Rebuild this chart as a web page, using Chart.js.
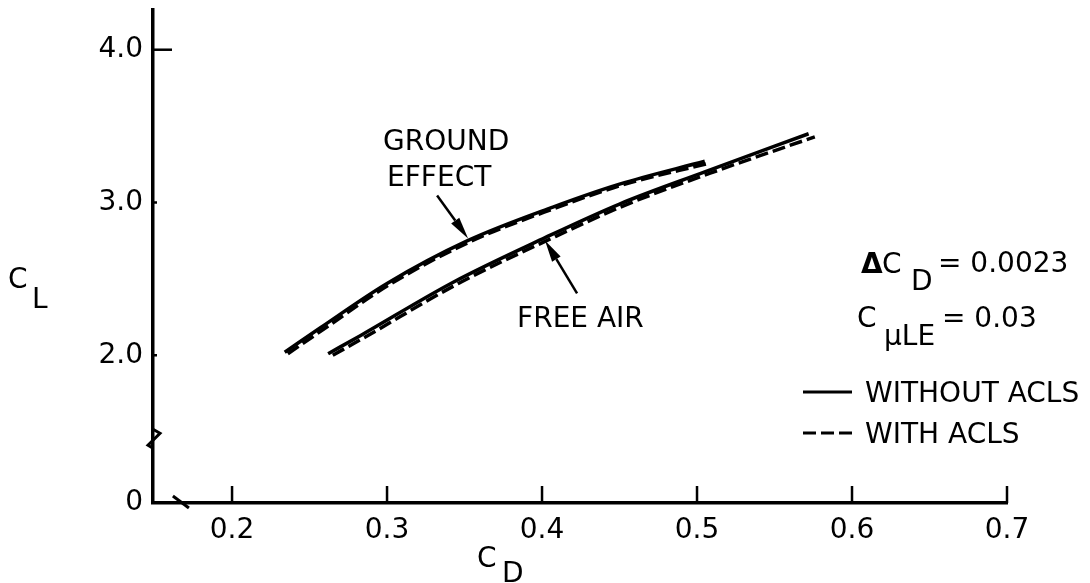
<!DOCTYPE html>
<html><head><meta charset="utf-8">
<script src="https://cdn.jsdelivr.net/npm/chart.js@4.4.1/dist/chart.umd.min.js"></script>
<style>html,body{margin:0;padding:0;background:#fff;}canvas{display:block;}</style>
</head><body>
<canvas id="c" width="1090" height="583"></canvas>
<script>
// ---- data ----
const xTicks = [0.2, 0.3, 0.4, 0.5, 0.6, 0.7];
const yTicks = [2.0, 3.0, 4.0];
const yOriginLabel = '0';

const groundCD_without = [0.234, 0.257, 0.300, 0.352, 0.407, 0.450, 0.505];
const groundCL_without = [2.02, 2.18, 2.47, 2.75, 2.97, 3.12, 3.27];
const groundCD_with    = [0.236, 0.259, 0.302, 0.354, 0.409, 0.452, 0.507];
const groundCL_with    = [2.01, 2.17, 2.465, 2.745, 2.965, 3.115, 3.255];

const freeCD_without = [0.262, 0.283, 0.343, 0.402, 0.450, 0.505, 0.572];
const freeCL_without = [2.01, 2.13, 2.48, 2.77, 2.99, 3.20, 3.45];
const freeCD_with    = [0.265, 0.286, 0.346, 0.405, 0.453, 0.508, 0.576];
const freeCL_with    = [2.00, 2.12, 2.47, 2.76, 2.98, 3.19, 3.43];

const seriesLabels = ['WITHOUT ACLS', 'WITH ACLS'];
const notes = ['GROUND', 'EFFECT', 'FREE AIR'];

// ---- helpers ----
const pts = (xs, ys) => xs.map((v, i) => ({x: v, y: ys[i]}));
const FONT = '"DejaVu Sans", sans-serif';
const F28 = '28px ' + FONT;
const DASH = [13, 5];

const baseDs = {borderColor: '#000', borderWidth: 3.5, pointRadius: 0, fill: false,
  cubicInterpolationMode: 'monotone'};

const annot = {
  id: 'annot',
  afterDraw(chart) {
    const {ctx, scales: {x, y}, chartArea: ca} = chart;
    const X = v => x.getPixelForValue(v), Y = v => y.getPixelForValue(v);
    ctx.save();
    ctx.strokeStyle = '#000'; ctx.fillStyle = '#000';
    // inward tick marks
    ctx.lineWidth = 2.5;
    xTicks.forEach(v => { ctx.beginPath(); ctx.moveTo(X(v), ca.bottom); ctx.lineTo(X(v), ca.bottom - 17); ctx.stroke(); });
    yTicks.forEach(v => { const len = v === 4 ? 19 : 4; ctx.beginPath(); ctx.moveTo(ca.left, Y(v)); ctx.lineTo(ca.left + len, Y(v)); ctx.stroke(); });
    // axis breaks
    ctx.lineWidth = 3;
    const yb = Y(1.45), L = ca.left;
    ctx.beginPath(); ctx.moveTo(L, yb - 10); ctx.lineTo(L + 7, yb - 6); ctx.lineTo(L - 5, yb + 6); ctx.lineTo(L, yb + 9); ctx.stroke();
    const xb = X(0.167), B = ca.bottom;
    ctx.beginPath(); ctx.moveTo(xb - 8, B - 7); ctx.lineTo(xb + 8, B + 5); ctx.stroke();
    // arrows
    const arrow = (x0, y0, x1, y1) => {
      const ax = X(x0), ay = Y(y0), bx = X(x1), by = Y(y1);
      const ang = Math.atan2(by - ay, bx - ax), hl = 22, hw = 5;
      const cx = bx - hl * Math.cos(ang), cy = by - hl * Math.sin(ang);
      ctx.lineWidth = 2.5;
      ctx.beginPath(); ctx.moveTo(ax, ay); ctx.lineTo(cx, cy); ctx.stroke();
      ctx.beginPath(); ctx.moveTo(bx, by);
      ctx.lineTo(cx + hw * Math.sin(ang), cy - hw * Math.cos(ang));
      ctx.lineTo(cx - hw * Math.sin(ang), cy + hw * Math.cos(ang));
      ctx.closePath(); ctx.fill();
    };
    arrow(0.3323, 3.046, 0.3523, 2.765);
    arrow(0.4226, 2.405, 0.4019, 2.752);
    // in-plot labels
    ctx.font = F28; ctx.textAlign = 'left'; ctx.textBaseline = 'alphabetic';
    ctx.fillText(notes[0], X(0.2974), Y(3.346));
    ctx.fillText(notes[1], X(0.300), Y(3.105));
    ctx.fillText(notes[2], X(0.3839), Y(2.183));
    // right-hand block
    ctx.font = 'bold 28px ' + FONT; ctx.fillText('Δ', 861, 273);
    ctx.font = F28;
    ctx.fillText('C', 882, 273); ctx.fillText('D', 911, 290); ctx.fillText('= 0.0023', 938, 272);
    ctx.fillText('C', 857, 327); ctx.fillText('μLE', 884, 345); ctx.fillText('= 0.03', 942, 327);
    // legend
    ctx.lineWidth = 3;
    ctx.beginPath(); ctx.moveTo(803, 392); ctx.lineTo(852, 392); ctx.stroke();
    ctx.setLineDash(DASH);
    ctx.beginPath(); ctx.moveTo(803, 433); ctx.lineTo(853, 433); ctx.stroke();
    ctx.setLineDash([]);
    ctx.fillText(seriesLabels[0], 865, 402);
    ctx.fillText(seriesLabels[1], 865, 443);
    // axis titles
    ctx.fillText('C', 8, 288); ctx.fillText('L', 32, 308);
    ctx.fillText('C', 477, 567); ctx.fillText('D', 502, 582);
    ctx.restore();
  }
};

new Chart(document.getElementById('c'), {
  type: 'line',
  data: {
    datasets: [
      Object.assign({label: 'Ground effect, ' + seriesLabels[0], data: pts(groundCD_without, groundCL_without)}, baseDs),
      Object.assign({label: 'Ground effect, ' + seriesLabels[1], data: pts(groundCD_with, groundCL_with), borderDash: DASH}, baseDs),
      Object.assign({label: 'Free air, ' + seriesLabels[0], data: pts(freeCD_without, freeCL_without)}, baseDs),
      Object.assign({label: 'Free air, ' + seriesLabels[1], data: pts(freeCD_with, freeCL_with), borderDash: DASH}, baseDs)
    ]
  },
  options: {
    responsive: false, animation: false, devicePixelRatio: 1,
    layout: {padding: {top: 10, right: 83, left: 0, bottom: 0}},
    plugins: {legend: {display: false}, tooltip: {enabled: false}},
    scales: {
      x: {
        type: 'linear', min: 0.149, max: 0.7,
        afterBuildTicks: s => { s.ticks = xTicks.map(v => ({value: v})); },
        afterFit: s => { s.height = 80; s.paddingLeft = 0; s.paddingRight = 0; },
        ticks: {callback: v => v.toFixed(1), color: '#000', font: {family: FONT, size: 28}, padding: 11, maxRotation: 0, autoSkip: false},
        grid: {display: false, drawTicks: false},
        border: {color: '#000', width: 3.5}
      },
      y: {
        type: 'linear', min: 1.033, max: 4.26,
        afterBuildTicks: s => { s.ticks = [s.min].concat(yTicks).map(v => ({value: v})); },
        afterFit: s => { s.width = 153; s.paddingTop = 0; s.paddingBottom = 0; },
        ticks: {callback: v => (v < 1.5 ? yOriginLabel : v.toFixed(1)), color: '#000', font: {family: FONT, size: 28}, padding: 10, autoSkip: false},
        grid: {display: false, drawTicks: false},
        border: {color: '#000', width: 3.5}
      }
    }
  },
  plugins: [annot]
});
</script>
</body></html>
